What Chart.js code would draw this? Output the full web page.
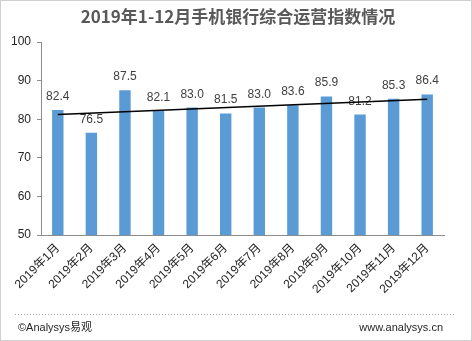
<!DOCTYPE html>
<html>
<head>
<meta charset="utf-8">
<script src="https://cdn.jsdelivr.net/npm/chart.js@4/dist/chart.umd.min.js"></script>
<style>
  html, body { margin: 0; padding: 0; background: #fff; }
  #wrap { width: 472px; height: 341px; }
</style>
</head>
<body>
<div id="wrap"><canvas id="indexChart" width="472" height="341"></canvas></div>
<script>
const months = ["2019年1月", "2019年2月", "2019年3月", "2019年4月", "2019年5月", "2019年6月",
  "2019年7月", "2019年8月", "2019年9月", "2019年10月", "2019年11月", "2019年12月"];
const indexValues = [82.4, 76.5, 87.5, 82.1, 83.0, 81.5, 83.0, 83.6, 85.9, 81.2, 85.3, 86.4];
// trend line, first and last month
const trendValues = [81.2, null, null, null, null, null, null, null, null, null, null, 85.2];
const yTicks = [50, 60, 70, 80, 90, 100];

const fontFamily = "'Liberation Sans', Arial, 'Noto Sans CJK SC', sans-serif";
const axisColor = "#8c8c8c";

// title, footer, border and value labels
const decorations = {
  id: "decorations",
  beforeDraw(chart) {
    const c = chart.ctx;
    c.save();
    c.fillStyle = "#fff";
    c.fillRect(0, 0, chart.width, chart.height);
    c.restore();
  },
  afterDatasetDraw(chart, args) {
    if (args.index !== 0) return;
    const c = chart.ctx;
    c.save();
    c.font = "12px " + fontFamily;
    c.fillStyle = "#404040";
    c.textAlign = "center";
    c.textBaseline = "alphabetic";
    args.meta.data.forEach((bar, i) => {
      c.fillText(indexValues[i].toFixed(1), bar.x, bar.y - 10);
    });
    c.restore();
  },
  afterDraw(chart) {
    const c = chart.ctx;
    c.save();
    c.font = "bold 17px 'Noto Sans CJK SC', sans-serif";
    c.fillStyle = "#595959";
    c.textAlign = "center";
    c.textBaseline = "middle";
    c.fillText("2019年1-12月手机银行综合运营指数情况", 238, 17);

    c.strokeStyle = "#a6a6a6";
    c.lineWidth = 1;
    c.setLineDash([1, 2]);
    c.beginPath();
    c.moveTo(15, 314.5);
    c.lineTo(456, 314.5);
    c.stroke();
    c.setLineDash([]);

    c.font = "11px " + fontFamily;
    c.fillStyle = "#262626";
    c.textBaseline = "middle";
    c.textAlign = "left";
    c.fillText("©Analysys易观", 18, 328);
    c.textAlign = "right";
    c.fillText("www.analysys.cn", 443, 328);

    c.strokeStyle = "#d0d0d0";
    c.strokeRect(0.5, 0.5, chart.width - 1, chart.height - 1);
    c.restore();
  }
};

new Chart(document.getElementById("indexChart"), {
  type: "bar",
  data: {
    labels: months,
    datasets: [
      {
        data: indexValues,
        backgroundColor: "#5b9bd5",
        categoryPercentage: 1,
        barPercentage: 0.34,
        order: 1
      },
      {
        type: "line",
        data: trendValues,
        borderColor: "#000",
        borderWidth: 1.5,
        pointRadius: 0,
        spanGaps: true,
        order: 0
      }
    ]
  },
  options: {
    responsive: false,
    animation: false,
    layout: { padding: { top: 42, right: 28, left: 0, bottom: 0 } },
    plugins: {
      legend: { display: false },
      title: { display: false },
      tooltip: { enabled: false }
    },
    scales: {
      x: {
        offset: true,
        grid: { display: false, drawTicks: false },
        border: { display: true, color: axisColor },
        ticks: {
          minRotation: 45,
          maxRotation: 45,
          padding: 6,
          color: "#262626",
          font: { family: fontFamily, size: 12 }
        },
        afterFit(scale) { scale.height = 106; }
      },
      y: {
        min: 50,
        max: 100,
        afterBuildTicks(scale) { scale.ticks = yTicks.map(v => ({ value: v })); },
        grid: { drawOnChartArea: false, drawTicks: true, tickLength: 4, color: axisColor },
        border: { display: true, color: axisColor },
        ticks: {
          padding: 6,
          color: "#262626",
          font: { family: fontFamily, size: 12 }
        },
        afterFit(scale) { scale.width = 41; }
      }
    }
  },
  plugins: [decorations]
});
</script>
</body>
</html>
